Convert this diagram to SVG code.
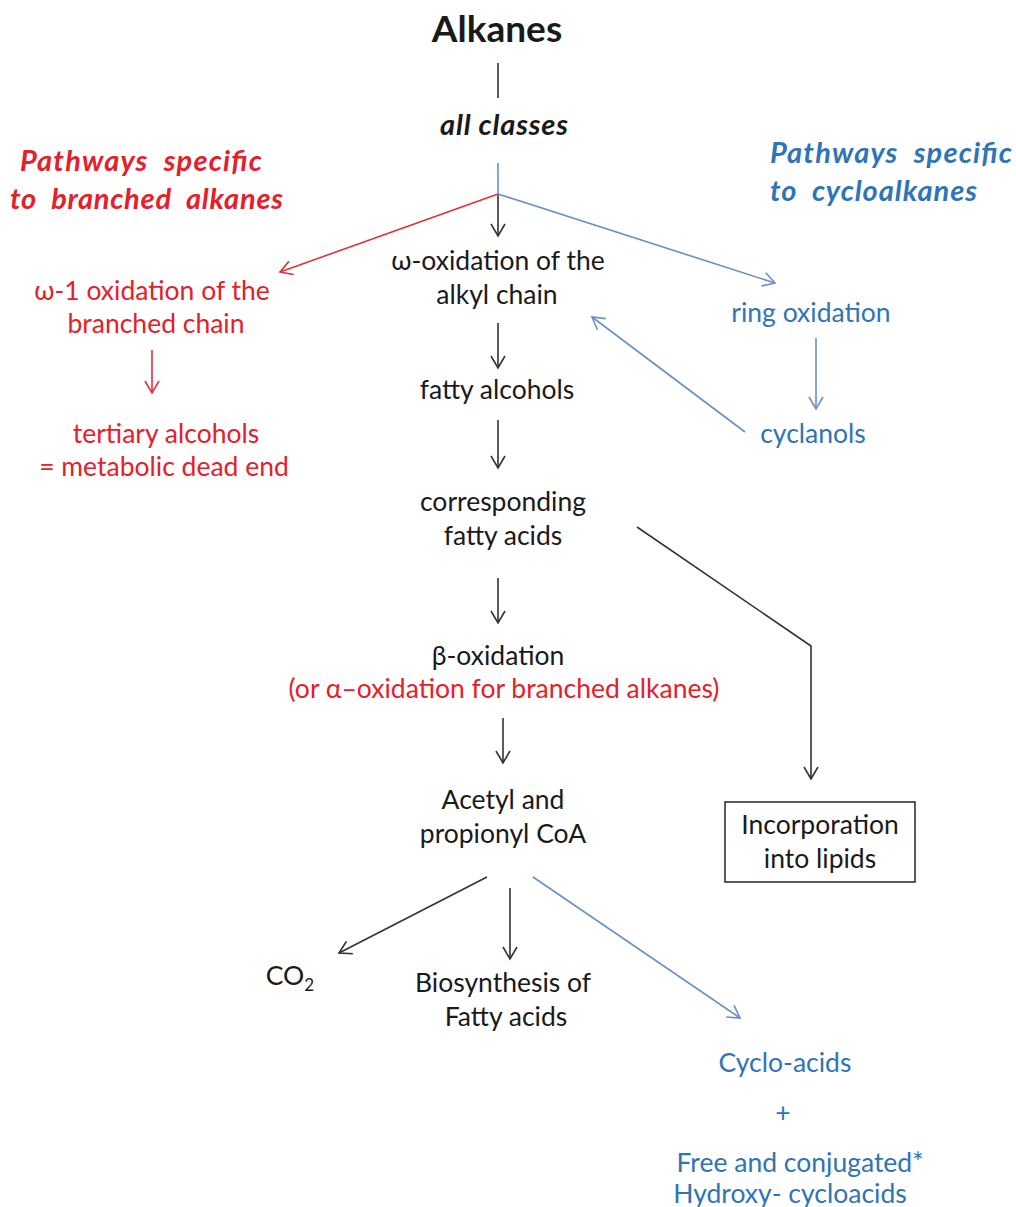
<svg xmlns="http://www.w3.org/2000/svg" width="1016" height="1207" viewBox="0 0 1016 1207">
<style>
text{font-family:Lato,"Open Sans","Liberation Sans",sans-serif;font-size:26.5px;text-anchor:middle;fill:#1a1a1a;white-space:pre}
.r{fill:#e4202a}
.b{fill:#2f74b5}
.h{font-weight:bold;font-style:italic;font-size:29px;text-anchor:start}
.k line,.k path{stroke:#333;stroke-width:1.6;fill:none;marker-end:url(#ak)}
.rl{stroke:#e0323a;stroke-width:1.6;fill:none}
.bl{stroke:#6a8fc6;stroke-width:1.6;fill:none}
</style>
<defs>
<marker id="ak" markerUnits="userSpaceOnUse" markerWidth="20" markerHeight="20" refX="13" refY="8" orient="auto"><path d="M1,1 L13,8 L1,15" fill="none" stroke="#333" stroke-width="1.6"/></marker>
<marker id="ar" markerUnits="userSpaceOnUse" markerWidth="20" markerHeight="20" refX="13" refY="8" orient="auto"><path d="M1,1 L13,8 L1,15" fill="none" stroke="#e0323a" stroke-width="1.6"/></marker>
<marker id="ab" markerUnits="userSpaceOnUse" markerWidth="20" markerHeight="20" refX="13" refY="8" orient="auto"><path d="M1,1 L13,8 L1,15" fill="none" stroke="#6a8fc6" stroke-width="1.6"/></marker>
</defs>
<rect width="1016" height="1207" fill="#fff"/>

<g id="connectors">
<line x1="498" y1="63" x2="498" y2="98" stroke="#333" stroke-width="1.6"/>
<line class="bl" x1="498" y1="163" x2="498" y2="194"/>
<g class="k">
<line x1="498" y1="194" x2="498" y2="236"/>
<line x1="498" y1="323" x2="498" y2="368"/>
<line x1="498" y1="420" x2="498" y2="468"/>
<path d="M637,527 L811,646 L811,779"/>
<line x1="498" y1="578" x2="498" y2="623"/>
<line x1="503" y1="718" x2="503" y2="763"/>
<line x1="487" y1="877" x2="339" y2="953"/>
<line x1="510" y1="888" x2="510" y2="959"/>
</g>
<line class="rl" x1="498" y1="194" x2="280" y2="272" marker-end="url(#ar)"/>
<line class="rl" x1="152" y1="350" x2="152" y2="393" marker-end="url(#ar)"/>
<line class="bl" x1="498" y1="194" x2="775" y2="283" marker-end="url(#ab)"/>
<line class="bl" x1="816" y1="338" x2="816" y2="409" marker-end="url(#ab)"/>
<line class="bl" x1="745" y1="432" x2="592" y2="317" marker-end="url(#ab)"/>
<line class="bl" x1="533" y1="877" x2="740" y2="1018" marker-end="url(#ab)"/>
</g>

<g id="alkanes"><text x="497" y="42" style="font-size:37px;font-weight:bold">Alkanes</text></g>
<g id="all-classes"><text x="504" y="135" style="font-style:italic;font-weight:bold;font-size:29px" textLength="128">all classes</text></g>
<g id="branched-title"><text class="r h" x="20" y="171" textLength="242">Pathways  specific</text><text class="r h" x="10" y="209" textLength="273">to  branched  alkanes</text></g>
<g id="cyclo-title"><text class="b h" x="770" y="163" textLength="242">Pathways  specific</text><text class="b h" x="770" y="201" textLength="207">to  cycloalkanes</text></g>
<g id="omega-oxidation"><text x="498" y="270">ω-oxidation of the</text><text x="497" y="304">alkyl chain</text></g>
<g id="omega1-oxidation"><text class="r" x="152" y="300">ω-1 oxidation of the</text><text class="r" x="156" y="333">branched chain</text></g>
<g id="tertiary-alcohols"><text class="r" x="166" y="443">tertiary alcohols</text><text class="r" x="164" y="476">= metabolic dead end</text></g>
<g id="ring-oxidation"><text class="b" x="811" y="322">ring oxidation</text></g>
<g id="cyclanols"><text class="b" x="813" y="443">cyclanols</text></g>
<g id="fatty-alcohols"><text x="497" y="399">fatty alcohols</text></g>
<g id="fatty-acids"><text x="503" y="511">corresponding</text><text x="503" y="545">fatty acids</text></g>
<g id="beta-oxidation"><text x="498" y="665">β-oxidation</text><text class="r" x="504" y="698">(or α–oxidation for branched alkanes)</text></g>
<g id="acetyl-coa"><text x="503" y="809">Acetyl and</text><text x="503" y="843">propionyl CoA</text></g>
<g id="lipids"><rect x="725" y="802" width="190" height="80" fill="none" stroke="#333" stroke-width="1.6"/><text x="820" y="834">Incorporation</text><text x="820" y="868">into lipids</text></g>
<g id="co2"><text x="290" y="985">CO<tspan dy="6" style="font-size:17px">2</tspan></text></g>
<g id="biosynthesis"><text x="503" y="992">Biosynthesis of</text><text x="506" y="1026">Fatty acids</text></g>
<g id="cyclo-acids"><text class="b" x="785" y="1072">Cyclo-acids</text><text class="b" x="783" y="1122">+</text><text class="b" x="800" y="1172">Free and conjugated*</text><text class="b" x="790" y="1203">Hydroxy- cycloacids</text></g>
</svg>
